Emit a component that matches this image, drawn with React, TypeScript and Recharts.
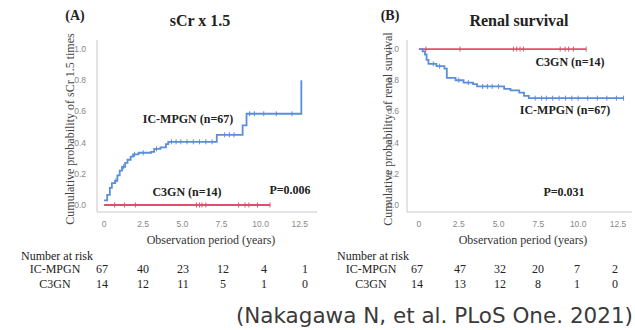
import { ComposedChart, Line, Scatter, XAxis, YAxis } from "recharts";

// Panel A: sCr x 1.5 (cumulative incidence)
const icTimesA = [0, 0.2, 0.37, 0.5, 0.7, 0.85, 1.0, 1.15, 1.35, 1.5, 1.7, 1.85, 2.2, 3.0, 3.2, 3.6, 3.95, 4.1, 7.2, 8.85, 9.1, 12.6, 12.6];
const icValuesA = [0.03, 0.065, 0.11, 0.14, 0.155, 0.19, 0.22, 0.245, 0.27, 0.29, 0.31, 0.325, 0.335, 0.34, 0.36, 0.37, 0.39, 0.405, 0.45, 0.51, 0.585, 0.585, 0.8];
const c3TimesA = [0, 10.6];
const c3ValuesA = [0, 0];
const icCensorA = [0.75, 1.25, 1.95, 2.5, 3.35, 4.3, 4.6, 4.9, 5.3, 5.7, 6.1, 6.5, 6.9, 7.7, 8.0, 8.3, 9.3, 9.6, 10.2, 11.0, 12.0];
const c3CensorA = [0.68, 1.3, 2.0, 5.9, 6.1, 6.25, 6.5, 8.6, 9.0, 9.25, 9.8, 10.6];

// Panel B: renal survival
const icTimesB = [0, 0.23, 0.38, 0.48, 0.6, 1.1, 1.6, 1.75, 2.3, 2.8, 3.4, 3.65, 5.35, 5.75, 6.3, 6.6, 6.9, 12.85];
const icValuesB = [1.0, 0.985, 0.965, 0.93, 0.905, 0.89, 0.875, 0.815, 0.8, 0.785, 0.775, 0.76, 0.745, 0.735, 0.72, 0.7, 0.685, 0.685];
const c3TimesB = [0, 10.5];
const c3ValuesB = [1, 1];
const icCensorB = [0.9, 1.3, 2.5, 3.1, 4.0, 4.3, 4.6, 5.0, 7.3, 7.7, 8.0, 8.4, 8.8, 9.2, 9.6, 10.0, 10.6, 11.2, 11.8, 12.4, 12.85];
const c3CensorB = [0.44, 2.58, 5.93, 6.14, 6.35, 6.56, 8.87, 9.18, 9.4, 9.7, 10.5];

const xTicks = [0, 2.5, 5, 7.5, 10, 12.5];
const yTicks = [0, 0.2, 0.4, 0.6, 0.8, 1.0];

const riskGroups = ["IC-MPGN", "C3GN"];
const riskA = [
  [67, 40, 23, 12, 4, 1],
  [14, 12, 11, 5, 1, 0],
];
const riskB = [
  [67, 47, 32, 20, 7, 2],
  [14, 13, 12, 8, 1, 0],
];

const BLUE = "#5b8ed8";
const RED = "#e0506e";
const SERIF = "'Liberation Serif', 'Times New Roman', serif";

function toSeries(times: number[], values: number[]) {
  return times.map((t, i) => ({ t, v: values[i] }));
}

// value of a step curve at time t
function stepAt(times: number[], values: number[], t: number) {
  let v = values[0];
  for (let i = 0; i < times.length; i++) {
    if (times[i] <= t + 1e-9) v = values[i];
  }
  return v;
}

function censorPoints(times: number[], values: number[], censor: number[]) {
  return censor.map((t) => ({ t, v: stepAt(times, values, t) }));
}

const CensorMark = (color: string) => (props: any) => {
  const { cx, cy } = props;
  if (cx == null || cy == null) return null;
  return <line x1={cx} x2={cx} y1={cy - 2.5} y2={cy + 2.5} stroke={color} strokeWidth={1} />;
};

const fmtX = (v: number) => (v === 0 ? "0" : v.toFixed(1));
const fmtY = (v: number) => v.toFixed(1);

function Txt({
  x,
  y,
  children,
  size = 12,
  bold = false,
  color = "#222",
  font = SERIF,
  anchor = "center",
  rotate = 0,
}: any) {
  const tx = anchor === "center" ? "-50%" : anchor === "right" ? "-100%" : "0";
  return (
    <div
      style={{
        position: "absolute",
        left: x,
        top: y,
        transform: `translate(${tx}, -50%) rotate(${rotate}deg)`,
        fontFamily: font,
        fontSize: size,
        fontWeight: bold ? "bold" : "normal",
        color,
        whiteSpace: "nowrap",
        lineHeight: 1,
      }}
    >
      {children}
    </div>
  );
}

interface PanelProps {
  width: number;
  yAxisWidth: number;
  xDomain: [number, number];
  icTimes: number[];
  icValues: number[];
  c3Times: number[];
  c3Values: number[];
  icCensor: number[];
  c3Censor: number[];
  tickGap: number;
}

function KMPanel(p: PanelProps) {
  const axisStyle = { fontSize: 8.5, fontFamily: "Arial, 'Liberation Sans', sans-serif", fill: "#888" };
  return (
    <ComposedChart width={p.width} height={230} margin={{ top: 40, right: 3, bottom: 0, left: 0 }}>
      <XAxis
        type="number"
        dataKey="t"
        domain={p.xDomain}
        ticks={xTicks}
        tickFormatter={fmtX}
        allowDataOverflow
        height={18}
        tickLine={false}
        stroke="#c8c8c8"
        tick={axisStyle}
        tickMargin={3}
      />
      <YAxis
        type="number"
        dataKey="v"
        domain={[-0.045, 1.058]}
        ticks={yTicks}
        tickFormatter={fmtY}
        allowDataOverflow
        width={p.yAxisWidth}
        tickLine={false}
        stroke="#c8c8c8"
        tick={axisStyle}
        tickMargin={p.tickGap}
      />
      <Line
        data={toSeries(p.c3Times, p.c3Values)}
        dataKey="v"
        type="stepAfter"
        stroke={RED}
        strokeWidth={1.8}
        dot={false}
        isAnimationActive={false}
      />
      <Line
        data={toSeries(p.icTimes, p.icValues)}
        dataKey="v"
        type="stepAfter"
        stroke={BLUE}
        strokeWidth={1.8}
        dot={false}
        isAnimationActive={false}
      />
      <Scatter
        data={censorPoints(p.c3Times, p.c3Values, p.c3Censor)}
        dataKey="v"
        shape={CensorMark(RED)}
        isAnimationActive={false}
      />
      <Scatter
        data={censorPoints(p.icTimes, p.icValues, p.icCensor)}
        dataKey="v"
        shape={CensorMark(BLUE)}
        isAnimationActive={false}
      />
    </ComposedChart>
  );
}

function RiskTable({ rows, labelX, xs }: { rows: number[][]; labelX: number; xs: number[] }) {
  return (
    <>
      <Txt x={labelX - 34} y={256} anchor="left">Number at risk</Txt>
      {riskGroups.map((g, r) => (
        <div key={g}>
          <Txt x={labelX} y={269 + r * 15}>{g}</Txt>
          {rows[r].map((n, i) => (
            <Txt key={i} x={xs[i]} y={269 + r * 15}>{n}</Txt>
          ))}
        </div>
      ))}
    </>
  );
}

export default function App() {
  const colsA = [102, 143, 183, 223, 264, 305];
  const colsB = [417, 460, 500, 538, 577, 615];
  return (
    <div
      style={{
        position: "absolute",
        left: 0,
        top: 0,
        width: 635,
        height: 330,
        background: "#fff",
        overflow: "hidden",
      }}
    >
      <div style={{ position: "absolute", left: 0, top: 0 }}>
        <KMPanel
          width={320}
          yAxisWidth={97}
          xDomain={[-0.45, 13.6]}
          icTimes={icTimesA}
          icValues={icValuesA}
          c3Times={c3TimesA}
          c3Values={c3ValuesA}
          icCensor={icCensorA}
          c3Censor={c3CensorA}
          tickGap={5}
        />
      </div>
      <div style={{ position: "absolute", left: 320, top: 0 }}>
        <KMPanel
          width={315}
          yAxisWidth={87}
          xDomain={[-0.75, 13.38]}
          icTimes={icTimesB}
          icValues={icValuesB}
          c3Times={c3TimesB}
          c3Values={c3ValuesB}
          icCensor={icCensorB}
          c3Censor={c3CensorB}
          tickGap={2}
        />
      </div>

      {/* titles */}
      <Txt x={75} y={16} size={14} bold>(A)</Txt>
      <Txt x={200} y={21} size={16} bold>sCr x 1.5</Txt>
      <Txt x={390} y={16} size={14} bold>(B)</Txt>
      <Txt x={519} y={21} size={16} bold>Renal survival</Txt>

      {/* y axis labels */}
      <Txt x={70} y={129} rotate={-90} color="#444">Cumulative probability of sCr 1.5 times</Txt>
      <Txt x={388} y={129} rotate={-90} color="#444">Cumulative probability of renal survival</Txt>

      {/* x axis labels */}
      <Txt x={211} y={240} color="#333">Observation period (years)</Txt>
      <Txt x={523} y={240} color="#333">Observation period (years)</Txt>

      {/* in-plot annotations */}
      <Txt x={188} y={119} bold>IC-MPGN (n=67)</Txt>
      <Txt x={187} y={192} bold>C3GN (n=14)</Txt>
      <Txt x={290} y={190} bold>P=0.006</Txt>
      <Txt x={570} y={62} bold>C3GN (n=14)</Txt>
      <Txt x={565} y={110} bold>IC-MPGN (n=67)</Txt>
      <Txt x={564} y={192} bold>P=0.031</Txt>

      <RiskTable rows={riskA} labelX={55} xs={colsA} />
      <RiskTable rows={riskB} labelX={371} xs={colsB} />

      <Txt x={633} y={316} size={21.5} anchor="right" color="#3a3a3a" font="'DejaVu Sans', Verdana, sans-serif">
        (Nakagawa N, et al. PLoS One. 2021)
      </Txt>
    </div>
  );
}
